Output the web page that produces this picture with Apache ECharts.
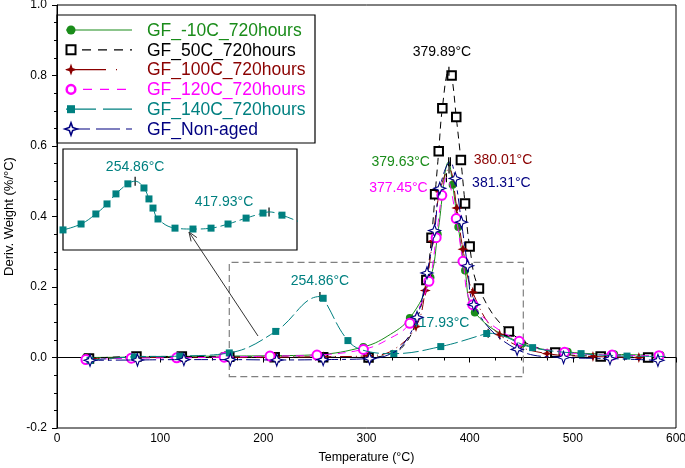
<!DOCTYPE html>
<html><head><meta charset="utf-8">
<script src="https://cdn.jsdelivr.net/npm/echarts@6/dist/echarts.min.js"></script>
<style>html,body{margin:0;padding:0;background:#fff}#c{width:685px;height:468px}</style>
</head><body><div id="c"></div>
<script>
// ---------- data ----------
const seriesNames = ['GF_-10C_720hours','GF_50C_720hours','GF_100C_720hours','GF_120C_720hours','GF_140C_720hours','GF_Non-aged'];
const xTicks = [0,100,200,300,400,500,600];
const yTicks = [-0.2,0,0.2,0.4,0.6,0.8,1.0];

// marker points [Temperature, Deriv. weight]
const m10  = [[28,0.000],[72,0.001],[117,0.003],[161,0.004],[206,0.005],[252,0.008],[297,0.030],[342,0.112],[362,0.227],[369,0.350],[383.5,0.490],[389,0.370],[395.5,0.247],[405,0.128],[451,0.040],[495,0.016],[540,0.009],[585,0.007]];
const m50  = [[31,-0.003],[77,0.003],[121,0.003],[167,0.002],[211,0.001],[258,0.001],[302,0.000],[358,0.220],[363,0.340],[366.5,0.463],[370,0.585],[373.5,0.707],[382.5,0.800],[387,0.682],[391.5,0.560],[395.5,0.437],[400,0.315],[409,0.196],[438,0.074],[483,0.014],[527,0.003],[573,0.000]];
const m100 = [[30,-0.003],[75,-0.001],[120,0.001],[166,0.000],[212,0.001],[258,0.002],[302,0.005],[348,0.088],[357,0.190],[364,0.330],[371,0.470],[387.5,0.424],[393.5,0.307],[403,0.185],[429,0.065],[475,0.011],[519.5,0.003],[564,0.000]];
const m120 = [[28,-0.006],[72,-0.002],[116,-0.001],[162,0.001],[206.5,0.004],[252,0.007],[297,0.023],[342,0.097],[360.5,0.216],[367.5,0.340],[373,0.460],[387,0.394],[393.5,0.273],[403,0.150],[448,0.046],[492,0.015],[538,0.007],[583.5,0.005]];
const m140 = [[32,-0.008],[75,0.002],[119,0.004],[167,0.013],[212,0.074],[258,0.168],[282,0.048],[326.5,0.011],[372,0.031],[416.5,0.068],[461,0.028],[508,0.011],[552.5,0.004]];
const mNon = [[32,-0.008],[78,-0.007],[123,-0.006],[168,-0.006],[213,-0.007],[258,-0.006],[303,-0.003],[349,0.114],[358.6,0.240],[366,0.360],[371,0.480],[386,0.508],[392,0.384],[398,0.260],[404,0.150],[446,0.023],[491,0.000],[536,-0.003],[582.5,-0.008]];

// extra curve points (no marker)
const c10  = [[320,0.060]];
const c50  = [[320,0.008],[335,0.030],[348,0.100]];
const c100 = [[325,0.020]];
const c120 = [[320,0.050]];
const c140 = [[300,0.018],[590,0.003]];
const cNon = [[320,0.006],[335,0.035]];

// peaks
const peakSeries = [0,1,2,3,4,4,5];
const peakT = [379.63,379.89,380.01,377.45,254.86,417.93,381.31];
const peakV = [0.555,0.812,0.535,0.510,0.173,0.069,0.555];

// inset (GF_140C zoom)
const tInset = [167,189,207,220.6,231.5,246,265.6,271.7,276.6,282.7,303.4,325.3,347.3,368,390,410.6,433.7,461];
const vInset = [0.008,0.028,0.062,0.096,0.130,0.164,0.150,0.113,0.082,0.045,0.014,0.011,0.014,0.028,0.048,0.065,0.058,0.028];
const zoomBox = [[167,-0.054],[452,0.27]];

// ---------- styles ----------
const FONT = 'Liberation Sans, Arial, sans-serif';
const colors = ['#1a8c1a','#000000','#8b0000','#ff00ff','#008080','#000080'];
const starPts = [[0,-10],[2.6,-2.6],[10,0],[2.6,2.6],[0,10],[-2.6,2.6],[-10,0],[-2.6,-2.6]];
const star = 'path://M' + starPts.map(p => p.join(',')).join('L') + 'Z';
const sym = [
  {symbol:'circle', size:8, item:{color:colors[0]}},
  {symbol:'emptyRect', size:8.5, item:{color:colors[1], borderWidth:1.8}},
  {symbol:star, size:11, item:{color:colors[2]}},
  {symbol:'emptyCircle', size:9, item:{color:colors[3], borderWidth:2.5}},
  {symbol:'rect', size:7, item:{color:colors[4]}},
  {symbol:star, size:12, item:{color:'#ffffff', borderColor:colors[5], borderWidth:1.1}}
];
const dashes = ['solid',[7,5],[12,4,1,4],[8,6],[16,4],[14,4,4,4]];
const legendDashes = [null,[9,7],[40,10,1,30],[9,8],[30,7],[24,6]];
const labelOffsets = [[-48,0],[-7,-19],[54,-9],[-48,10],[0,-15],[-48,-10],[51,21]];
const insetOffsets = {4:[0,-14],5:[-45,-10]};

const marks = [m10,m50,m100,m120,m140,mNon];
const extras = [c10,c50,c100,c120,c140,cNon];

function build(mk, ex, pk) {
  const items = mk.map(p => ({value: p}));
  ex.forEach(p => items.push({value: p, symbol: 'none'}));
  pk.forEach(p => items.push({value: p, symbol: 'none'}));
  items.sort((a, b) => a.value[0] - b.value[0]);
  return items;
}

function peakMarks(si, offsets) {
  const out = [];
  peakSeries.forEach((s, k) => {
    if (s !== si) return;
    if (offsets && !offsets[k]) return;
    out.push({
      coord: [peakT[k], peakV[k]],
      label: {show: true, position: 'inside', offset: offsets ? offsets[k] : labelOffsets[k],
        formatter: peakT[k].toFixed(2) + '°C', color: colors[si], fontSize: 14, fontFamily: FONT}
    });
  });
  return out;
}

const series = seriesNames.map((name, i) => {
  const pk = [];
  peakSeries.forEach((s, k) => { if (s === i) pk.push([peakT[k], peakV[k]]); });
  const s = {
    name, type: 'line', xAxisIndex: 0, yAxisIndex: 0,
    data: build(marks[i], extras[i], pk),
    smooth: 0.4,
    symbol: sym[i].symbol, symbolSize: sym[i].size,
    showAllSymbol: true,
    itemStyle: sym[i].item,
    lineStyle: {color: colors[i], width: 1, type: dashes[i]},
    z: 2 + i,
    markPoint: {
      symbol: 'rect', symbolSize: [1.2, 9], itemStyle: {color: '#000'},
      animation: false, data: peakMarks(i)
    }
  };
  if (i === 4) {
    s.markArea = {
      silent: true,
      itemStyle: {color: 'rgba(0,0,0,0)', borderColor: '#808080', borderWidth: 1.2, borderType: [7,4]},
      data: [[{coord: zoomBox[0]}, {coord: zoomBox[1]}]]
    };
  }
  return s;
});

// inset series
const insetPk = [];
peakSeries.forEach((s, k) => { if (s === 4) insetPk.push([peakT[k], peakV[k]]); });
series.push({
  name: 'inset', type: 'line', xAxisIndex: 1, yAxisIndex: 1,
  data: build(tInset.map((t, j) => [t, vInset[j]]), [], insetPk),
  smooth: 0.4, symbol: 'rect', symbolSize: 7, showAllSymbol: true,
  itemStyle: {color: colors[4]},
  lineStyle: {color: colors[4], width: 1, type: [16,4]},
  z: 10,
  markPoint: {
    symbol: 'rect', symbolSize: [1.2, 9], itemStyle: {color: '#000'},
    animation: false, data: peakMarks(4, insetOffsets)
  }
});

// legend icons (symbol at left end of the sample line)
const rowY0 = 30, rowDY = 19.8, lx0 = 66, lx1 = 132, sx = 71;
const legendIcons = [];
function starPoly(cx, cy, s) { return starPts.map(p => [cx + p[0]*s, cy + p[1]*s]); }
seriesNames.forEach((n, i) => {
  const y = rowY0 + i * rowDY;
  const ln = {type: 'line', shape: {x1: lx0, y1: y, x2: lx1, y2: y}, z: 30,
    style: {stroke: colors[i], lineWidth: 1.2}};
  if (legendDashes[i]) ln.style.lineDash = legendDashes[i];
  legendIcons.push(ln);
  let g;
  if (i === 0) g = {type: 'circle', shape: {cx: sx, cy: y, r: 4.5}, style: {fill: colors[0]}};
  else if (i === 1) g = {type: 'rect', shape: {x: sx-4.5, y: y-4.5, width: 9, height: 9}, style: {fill: '#fff', stroke: '#000', lineWidth: 2}};
  else if (i === 2) g = {type: 'polygon', shape: {points: starPoly(sx, y, 0.6)}, style: {fill: colors[2]}};
  else if (i === 3) g = {type: 'circle', shape: {cx: sx, cy: y, r: 4.3}, style: {fill: '#fff', stroke: colors[3], lineWidth: 2.5}};
  else if (i === 4) g = {type: 'rect', shape: {x: sx-4, y: y-4, width: 8, height: 8}, style: {fill: colors[4]}};
  else g = {type: 'polygon', shape: {points: starPoly(sx, y, 0.62)}, style: {fill: '#fff', stroke: colors[5], lineWidth: 1.6}};
  g.z = 31;
  legendIcons.push(g);
});

const option = {
  animation: false,
  backgroundColor: '#fff',
  textStyle: {fontFamily: FONT},
  grid: [
    {left: 57, top: 5, right: 9, bottom: 40, show: true, borderColor: '#000', borderWidth: 1,
     containLabel: false, outerBoundsMode: 'none'},
    {left: 63, top: 149, width: 234, height: 101, show: true, borderColor: '#000', borderWidth: 1.2,
     backgroundColor: '#fff', z: 5, containLabel: false, outerBoundsMode: 'none'}
  ],
  xAxis: [
    {type: 'value', gridIndex: 0, min: xTicks[0], max: xTicks[xTicks.length-1], interval: 100,
     name: 'Temperature (°C)', nameLocation: 'middle', nameGap: 23,
     nameTextStyle: {fontSize: 12.5, color: '#000', fontFamily: FONT},
     axisLine: {lineStyle: {color: '#000', width: 1}},
     axisTick: {show: true, inside: false, length: 5, lineStyle: {color: '#000'}},
     minorTick: {show: true, splitNumber: 4, length: 3, lineStyle: {color: '#000'}},
     axisLabel: {fontSize: 12, color: '#000', margin: 5, fontFamily: FONT},
     splitLine: {show: false}},
    {type: 'value', gridIndex: 1, min: 167, max: 452, show: false, splitLine: {show: false}}
  ],
  yAxis: [
    {type: 'value', gridIndex: 0, min: yTicks[0], max: yTicks[yTicks.length-1], interval: 0.2,
     name: 'Deriv. Weight (%/°C)', nameLocation: 'middle', nameGap: 41,
     nameTextStyle: {fontSize: 13, color: '#000', fontFamily: FONT},
     axisLine: {show: true, lineStyle: {color: '#000', width: 1}},
     axisTick: {show: true, inside: false, length: 5, lineStyle: {color: '#000'}},
     minorTick: {show: true, splitNumber: 4, length: 3, lineStyle: {color: '#000'}},
     axisLabel: {fontSize: 12, color: '#000', margin: 10, fontFamily: FONT,
       formatter: v => v.toFixed(1)},
     splitLine: {show: false}},
    {type: 'value', gridIndex: 1, min: -0.060, max: 0.282, show: false, splitLine: {show: false}}
  ],
  legend: {
    orient: 'vertical', left: 62, top: 22, padding: 0,
    itemWidth: 66, itemHeight: 11, itemGap: 1.8,
    itemStyle: {opacity: 0}, lineStyle: {opacity: 0},
    textStyle: {fontSize: 17.5, lineHeight: 18, fontFamily: FONT, padding: [0,0,0,13]},
    data: seriesNames.map((n, i) => ({name: n, textStyle: {color: colors[i]}}))
  },
  graphic: [
    {type: 'rect', shape: {x: 57, y: 15, width: 258, height: 128}, z: -1,
     style: {fill: 'rgba(0,0,0,0)', stroke: '#000', lineWidth: 1.2}},
    {type: 'polyline', shape: {points: [[258,336],[189,232]]}, style: {stroke: '#333', lineWidth: 1}, z: 20},
    {type: 'polyline', shape: {points: [[196.9,237.6],[189,232],[191.1,241.4]]}, style: {stroke: '#333', lineWidth: 1, fill: null}, z: 20}
  ].concat(legendIcons),
  series
};

const chart = echarts.init(document.getElementById('c'), null, {renderer: 'canvas'});
chart.setOption(option);
</script>
</body></html>
